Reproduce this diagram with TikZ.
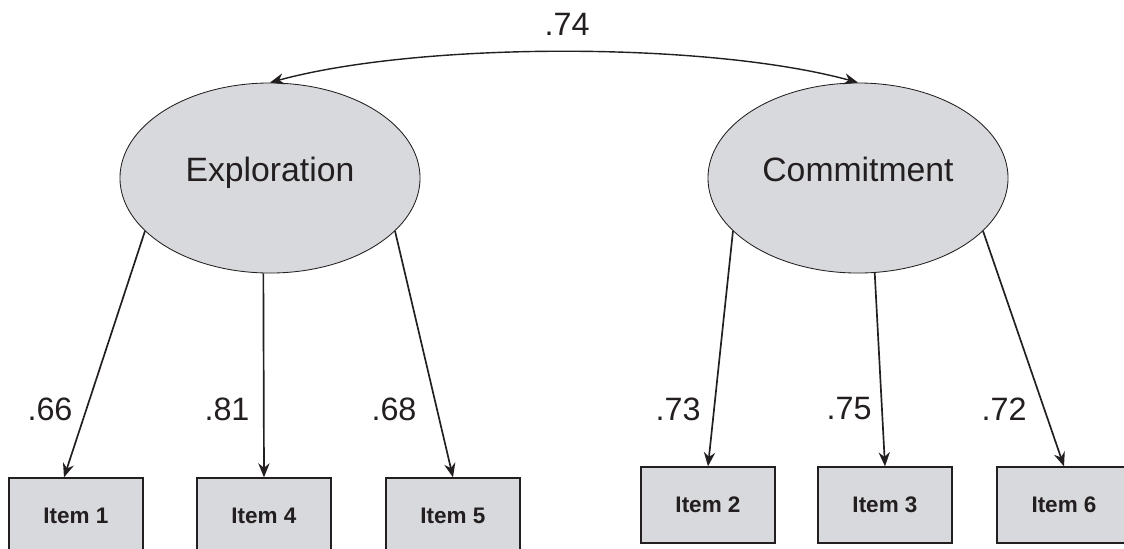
\documentclass[tikz,border=0pt]{standalone}
\usepackage{fontspec}
\setmainfont{Liberation Sans}
\usetikzlibrary{shapes.geometric, arrows.meta}
\definecolor{boxgray}{RGB}{216,217,220}
\definecolor{inkgray}{RGB}{35,31,32}

\begin{document}
\begin{tikzpicture}[x=0.025cm, y=-0.025cm, >={Stealth[length=10pt,width=8pt]},
  latent/.style={ellipse, draw=inkgray, fill=boxgray, line width=0.6pt,
    minimum width=7.5cm, minimum height=4.75cm, inner sep=0pt,
    text height=0.72em, text depth=0.2em,
    font=\fontsize{24}{28}\selectfont, text=inkgray},
  itembox/.style={rectangle, draw=inkgray, fill=boxgray, line width=0.9pt,
    minimum width=3.35cm, minimum height=1.9cm,
    font=\bfseries\fontsize{16}{19}\selectfont, text=inkgray},
  coef/.style={font=\fontsize{23}{27}\selectfont, text=inkgray},
  loading/.style={->, draw=inkgray, line width=1.2pt}]
  \useasboundingbox (0,0) rectangle (1124,548);

  % latent factors
  \node[latent] (expl) at (270,178) {Exploration};
  \node[latent] (comm) at (858,178) {Commitment};

  % indicator boxes (left row sits a little lower)
  \foreach \x/\n in {76/1, 264/4, 453/5}
    \node[itembox] (item\n) at (\x,516) {Item \n};
  \foreach \x/\n in {708/2, 885/3, 1064/6}
    \node[itembox] (item\n) at (\x,505) {Item \n};

  % factor covariance
  \draw[<->, draw=inkgray, line width=1pt]
       (expl.north) .. controls +(150,-41) and +(-150,-41) .. (comm.north);
  \node[coef] (cov) at (567,24) {.74};

  % loadings
  \draw[loading] (expl.203) -- ([xshift=-0.3cm]item1.north);
  \draw[loading] (expl.266) -- (item4.north);
  \draw[loading] (expl.337) -- (item5.north);
  \draw[loading] (comm.203) -- (item2.north);
  \draw[loading] (comm.280) -- (item3.north);
  \draw[loading] (comm.337) -- (item6.north);

  % loading values
  \foreach \name/\x/\v in {l1/50/.66, l4/227/.81, l5/394/.68,
                           l2/678/.73, l3/849/.75, l6/1004/.72}
    \node[coef] (\name) at (\x,409) {\v};
\end{tikzpicture}
\end{document}
